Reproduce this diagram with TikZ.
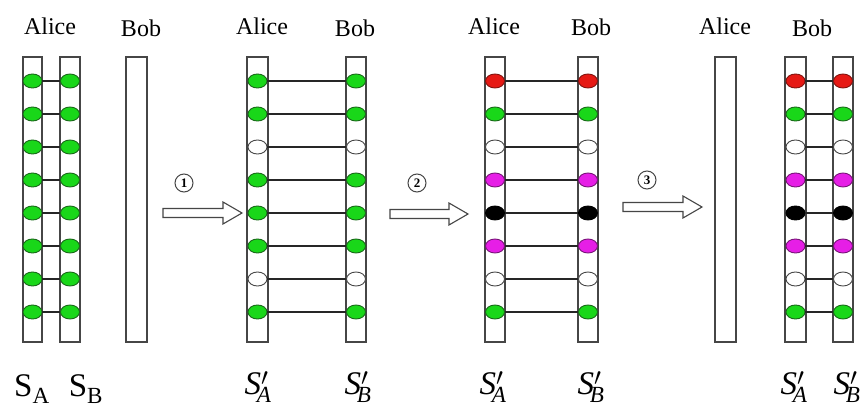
\documentclass[tikz,border=0pt]{standalone}
\usepackage{fontspec}
\setmainfont{Liberation Serif}
\usetikzlibrary{shapes.geometric}
\definecolor{gfill}{RGB}{25,215,25}
\definecolor{gdraw}{RGB}{25,105,25}
\definecolor{rfill}{RGB}{230,25,20}
\definecolor{rdraw}{RGB}{130,20,15}
\definecolor{mfill}{RGB}{230,30,230}
\definecolor{mdraw}{RGB}{120,20,120}
\definecolor{edge}{RGB}{70,70,70}
\begin{document}
\begin{tikzpicture}[x=1pt,y=-1pt,
  barbox/.style={draw=edge,line width=1.4pt,fill=white},
  dot/.style={ellipse,draw,line width=0.9pt,minimum width=19pt,minimum height=14pt,inner sep=0pt},
  dotg/.style={dot,fill=gfill,draw=gdraw},
  dotr/.style={dot,fill=rfill,draw=rdraw},
  dotm/.style={dot,fill=mfill,draw=mdraw},
  dotk/.style={dot,fill=black,draw=black},
  dotw/.style={dot,fill=white,draw=edge},
  rung/.style={draw=black!85,line width=1.1pt},
  lab/.style={font=\fontsize{24}{26}\selectfont,inner sep=0pt},
  slab/.style={font=\fontsize{33}{36}\selectfont,inner sep=0pt},
  num/.style={circle,draw=edge,line width=1pt,minimum size=18pt,inner sep=0pt,font=\fontsize{13}{14}\selectfont\bfseries},
  bigarrow/.style={draw=edge,line width=1.1pt,fill=white,line join=miter}
]
\useasboundingbox (0,0) rectangle (868,414);
\fill[white] (0,0) rectangle (868,414);

% bars
\foreach \a/\b in {23/42,60/80,126/147,247/268,346/366,485/505,578/598,715/736,785/806,833/853}
  \draw[barbox] (\a,57) rectangle (\b,342);

% dots and rungs
\foreach \p/\xa/\xb/\cl in {1/32.5/70/{g,g,g,g,g,g,g,g},
                           2/257.5/356/{g,g,w,g,g,g,w,g},
                           3/495/588/{r,g,w,m,k,m,w,g},
                           4/795.5/843/{r,g,w,m,k,m,w,g}}{
  \foreach \c [count=\i from 0] in \cl {
    \node[dot\c] (p\p a\i) at (\xa,{81+33*\i}) {};
    \node[dot\c] (p\p b\i) at (\xb,{81+33*\i}) {};
    \draw[rung] (p\p a\i) -- (p\p b\i);
  }
}

% top labels
\node[lab] (al1) at (50,26) {Alice};
\node[lab] (bo1) at (141,28) {Bob};
\node[lab] (al2) at (262,26) {Alice};
\node[lab] (bo2) at (355,28) {Bob};
\node[lab] (al3) at (494,26) {Alice};
\node[lab] (bo3) at (591,27) {Bob};
\node[lab] (al4) at (725,26) {Alice};
\node[lab] (bo4) at (812,28) {Bob};

% bottom labels
\node[slab] (s1a) at (32,389) {S$_{\mathrm{A}}$};
\node[slab] (s1b) at (86,389) {S$_{\mathrm{B}}$};
\node[slab] (s2a) at (258,387) {$\mathit{S}'_{\!\mathit{A}}$};
\node[slab] (s2b) at (358,387) {$\mathit{S}'_{\!\mathit{B}}$};
\node[slab] (s3a) at (493,387) {$\mathit{S}'_{\!\mathit{A}}$};
\node[slab] (s3b) at (591,387) {$\mathit{S}'_{\!\mathit{B}}$};
\node[slab] (s4a) at (794,387) {$\mathit{S}'_{\!\mathit{A}}$};
\node[slab] (s4b) at (847,387) {$\mathit{S}'_{\!\mathit{B}}$};

% step numbers
\node[num] (n1) at (184,183) {1};
\node[num] (n2) at (417,183) {2};
\node[num] (n3) at (647,180) {3};

% hollow arrows
\draw[bigarrow] (163,208.5) -- (223,208.5) -- (223,202) -- (242,213) -- (223,224) -- (223,217.5) -- (163,217.5) -- cycle;
\draw[bigarrow] (390,209.5) -- (449,209.5) -- (449,203) -- (468,214) -- (449,225) -- (449,218.5) -- (390,218.5) -- cycle;
\draw[bigarrow] (623,202.5) -- (683,202.5) -- (683,196) -- (702,207) -- (683,218) -- (683,211.5) -- (623,211.5) -- cycle;
\end{tikzpicture}
\end{document}
